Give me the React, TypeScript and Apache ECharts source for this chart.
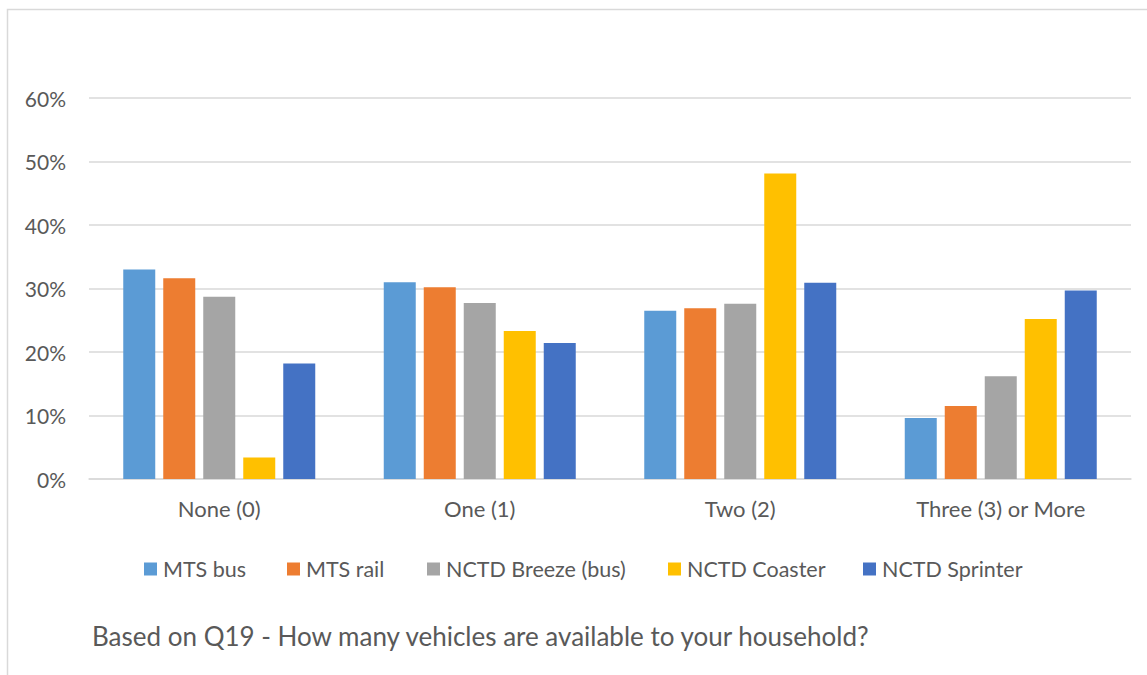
import React, { useEffect, useRef } from "react";
import * as echarts from "echarts";

const categories = ["None (0)", "One (1)", "Two (2)", "Three (3) or More"];
const seriesNames = ["MTS bus", "MTS rail", "NCTD Breeze (bus)", "NCTD Coaster", "NCTD Sprinter"];
const mtsBus = [0.33, 0.31, 0.265, 0.096];
const mtsRail = [0.316, 0.302, 0.269, 0.115];
const nctdBreeze = [0.287, 0.277, 0.276, 0.162];
const nctdCoaster = [0.034, 0.233, 0.481, 0.252];
const nctdSprinter = [0.182, 0.214, 0.309, 0.297];
const yTicks = [0, 0.1, 0.2, 0.3, 0.4, 0.5, 0.6];
const footnote = "Based on Q19 - How many vehicles are available to your household?";

const colors = ["#5B9BD5", "#ED7D31", "#A5A5A5", "#FFC000", "#4472C4"];
const FONT = "Lato";
const TEXT = "#595959";

export default function App() {
  const ref = useRef<HTMLDivElement>(null);
  useEffect(() => {
    if (!ref.current) return;
    const chart = echarts.init(ref.current, null, { renderer: "svg" });
    const values = [mtsBus, mtsRail, nctdBreeze, nctdCoaster, nctdSprinter];
    const legendLefts = [144, 287, 427, 668, 863];
    chart.setOption({
      animation: false,
      color: colors,
      textStyle: { fontFamily: FONT, color: TEXT },
      grid: { left: 89, right: 16, top: 98, bottom: 196, containLabel: false },
      legend: seriesNames.map((n, i) => ({
        data: [n],
        left: legendLefts[i],
        top: 558,
        padding: 0,
        itemWidth: 13,
        itemHeight: 13,
        icon: "rect",
        textStyle: { fontFamily: FONT, fontSize: 21.5, color: TEXT, padding: [0, 0, 0, 1] },
        selectedMode: false,
      })),
      xAxis: {
        type: "category",
        data: categories,
        axisLine: { lineStyle: { color: "#D9D9D9", width: 1.5 } },
        axisTick: { show: false },
        axisLabel: { fontFamily: FONT, fontSize: 22, color: TEXT, margin: 18 },
      },
      yAxis: {
        type: "value",
        min: 0,
        max: yTicks[yTicks.length - 1],
        interval: 0.1,
        axisLine: { show: false },
        axisTick: { show: false },
        splitLine: { lineStyle: { color: "#D9D9D9", width: 1.5 } },
        axisLabel: {
          fontFamily: FONT,
          fontSize: 21,
          color: TEXT,
          margin: 23,
          formatter: (v: number) => Math.round(v * 100) + "%",
        },
      },
      series: seriesNames.map((n, i) => ({
        name: n,
        type: "bar",
        data: values[i],
        barWidth: 32,
        barGap: "25%",
        itemStyle: { color: colors[i] },
      })),
      graphic: [
        {
          type: "rect",
          shape: { x: 7.5, y: 9.5, width: 1160, height: 700 },
          style: { fill: "none", stroke: "#D9D9D9", lineWidth: 1.5 },
          silent: true,
        },
        {
          type: "text",
          left: 92,
          top: 623,
          style: { text: footnote, fontFamily: FONT, fontSize: 26, fill: TEXT },
        },
      ],
    });
    return () => chart.dispose();
  }, []);
  return (
    <div
      ref={ref}
      style={{ position: "fixed", left: 0, top: 0, width: 1147, height: 675, background: "#fff" }}
    />
  );
}
